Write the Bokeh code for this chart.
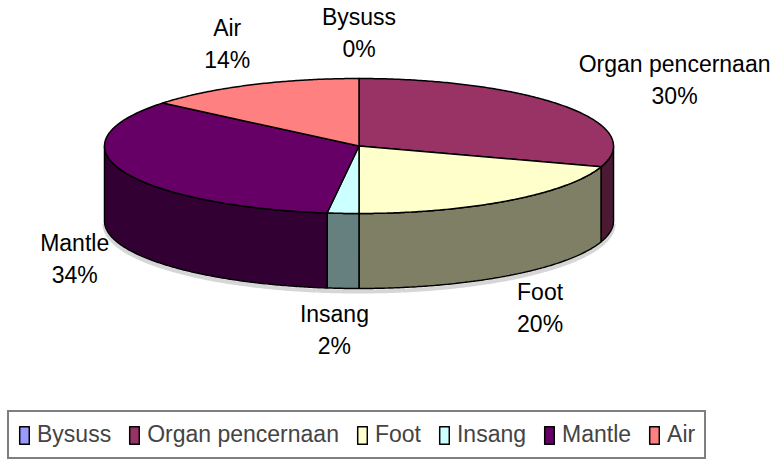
import numpy as np
from bokeh.plotting import figure
from bokeh.models import Range1d, Legend, LegendItem
from bokeh.embed import file_html
from bokeh.resources import INLINE
from bokeh.core.properties import value

# ---- data ----
categories = ["Bysuss", "Organ pencernaan", "Foot", "Insang", "Mantle", "Air"]
percent = [0, 30, 20, 2, 34, 14]
top_colors = ["#9999FF", "#993366", "#FFFFCC", "#CCFFFF", "#660066", "#FF8080"]

# ---- layout ----
W, H = 772, 459
FONT = "Liberation Sans"
FS = 23
cx, cy, a, b, depth = 358.5, 145.5, 254.5, 67.5, 75.0
lab_rx, lab_ry, lab_drop = 265.0, 113.0, 71.0
line_gap = 16.0

p = figure(width=W, height=H, x_range=Range1d(0, W), y_range=Range1d(H, 0),
           output_backend="svg", toolbar_location=None,
           x_axis_location=None, y_axis_location=None, min_border=0)
p.grid.visible = False
p.outline_line_color = None
p.background_fill_color = "white"
p.border_fill_color = "white"


def shade(hexc, f=0.5):
    h = hexc.lstrip("#")
    r, g, bb = (int(h[i:i + 2], 16) for i in (0, 2, 4))
    return "#%02x%02x%02x" % (int(r * f), int(g * f), int(bb * f))


def ell(theta_deg, dy=0.0):
    t = np.radians(theta_deg)
    return cx + a * np.sin(t), cy - b * np.cos(t) + dy


total = float(sum(percent))
bounds = []
acc = 0.0
for v in percent:
    t1 = acc / total * 360.0
    acc += v
    t2 = acc / total * 360.0
    bounds.append((t1, t2))

# soft shadow under the front wall
th_all = np.linspace(90.0, 270.0, 200)
sx_, sy_ = ell(th_all, depth + 3)
p.line(sx_, sy_, line_color="#bbbbbb", line_width=4, line_alpha=0.6)

# side walls (front half only)
for (t1, t2), col in zip(bounds, top_colors):
    s, e = max(t1, 90.0), min(t2, 270.0)
    if e - s <= 0:
        continue
    th = np.linspace(s, e, max(int((e - s) * 2), 3))
    xt, yt = ell(th)
    xb, yb = ell(th[::-1], depth)
    p.patch(np.concatenate([xt, xb]), np.concatenate([yt, yb]),
            fill_color=shade(col), line_color="black", line_width=1.5)

# top faces
top_renderers = []
for (t1, t2), col in zip(bounds, top_colors):
    th = np.linspace(t1, t2, max(int((t2 - t1) * 2), 2))
    xs, ys = ell(th)
    r = p.patch(np.concatenate([[cx], xs]), np.concatenate([[cy], ys]),
                fill_color=col, line_color="black", line_width=1.5,
                line_join="round")
    top_renderers.append(r)

# data labels
lx, ly1, ly2, names, pcts = [], [], [], [], []
for cat, v, (t1, t2) in zip(categories, percent, bounds):
    m = np.radians((t1 + t2) / 2.0)
    sx, cc = np.sin(m), np.cos(m)
    pct = "%d%%" % round(v / total * 100)
    half_w = 0.55 * FS * max(len(cat), len(pct)) / 2.0
    ax = cx + lab_rx * sx + half_w * np.clip(sx / 0.3, -1, 1)
    ay = cy - lab_ry * cc + (lab_drop if cc < 0 else 0.0)
    lx.append(ax)
    ly1.append(ay - line_gap)
    ly2.append(ay + line_gap)
    names.append(cat)
    pcts.append(pct)

for yy, tt in ((ly1, names), (ly2, pcts)):
    p.text(x=lx, y=yy, text=tt, text_align="center", text_baseline="middle",
           text_font=value(FONT), text_font_size="%dpx" % FS, text_color="black")

legend = Legend(items=[LegendItem(label=c, renderers=[r]) for c, r in zip(categories, top_renderers)],
                orientation="horizontal", location=(7, 0), margin=0,
                glyph_width=12, glyph_height=22, label_standoff=7, spacing=17, padding=9,
                label_text_font=FONT, label_text_font_size="%dpx" % FS,
                border_line_color="black", border_line_width=2,
                background_fill_color="white", background_fill_alpha=1.0)
p.add_layout(legend)

open("out.html", "w").write(file_html(p, INLINE))
